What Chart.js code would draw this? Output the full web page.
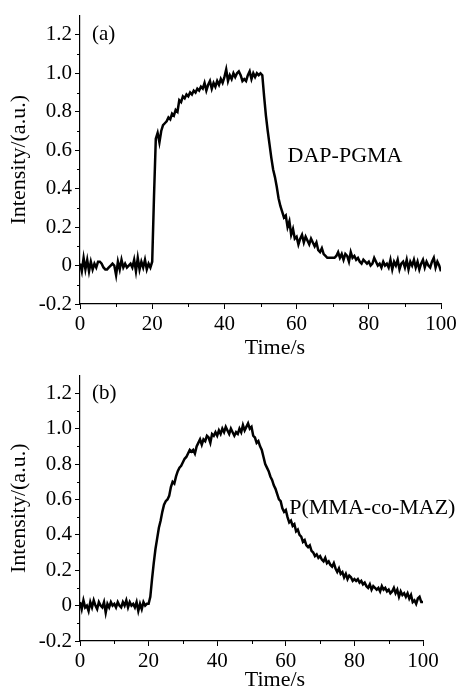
<!DOCTYPE html>
<html>
<head>
<meta charset="utf-8">
<script src="https://cdn.jsdelivr.net/npm/chart.js@4.4.1/dist/chart.umd.min.js"></script>
<style>
  html, body { margin: 0; padding: 0; background: #fff; }
  body { width: 462px; height: 690px; position: relative; overflow: hidden; }
  .panel { position: absolute; left: 0; width: 462px; }
  #panelA { top: 0; height: 360px; }
  #panelB { top: 360px; height: 330px; }
</style>
</head>
<body>
<div class="panel" id="panelA"><canvas id="chartA"></canvas></div>
<div class="panel" id="panelB"><canvas id="chartB"></canvas></div>
<script>
  // ---- data (time in s, intensity in a.u.) ----
  const sampleTimes = [
    0, 0.5, 1, 1.5, 2, 2.5, 3, 3.5, 4, 4.5, 5, 5.5, 6, 6.5, 7, 7.5, 8, 8.5, 9, 9.5,
    10, 10.5, 11, 11.5, 12, 12.5, 13, 13.5, 14, 14.5, 15, 15.5, 16, 16.5, 17, 17.5, 18, 18.5, 19, 19.5,
    20, 20.5, 21, 21.5, 22, 22.5, 23, 23.5, 24, 24.5, 25, 25.5, 26, 26.5, 27, 27.5, 28, 28.5, 29, 29.5,
    30, 30.5, 31, 31.5, 32, 32.5, 33, 33.5, 34, 34.5, 35, 35.5, 36, 36.5, 37, 37.5, 38, 38.5, 39, 39.5,
    40, 40.5, 41, 41.5, 42, 42.5, 43, 43.5, 44, 44.5, 45, 45.5, 46, 46.5, 47, 47.5, 48, 48.5, 49, 49.5,
    50, 50.5, 51, 51.5, 52, 52.5, 53, 53.5, 54, 54.5, 55, 55.5, 56, 56.5, 57, 57.5, 58, 58.5, 59, 59.5,
    60, 60.5, 61, 61.5, 62, 62.5, 63, 63.5, 64, 64.5, 65, 65.5, 66, 66.5, 67, 67.5, 68, 68.5, 69, 69.5,
    70, 70.5, 71, 71.5, 72, 72.5, 73, 73.5, 74, 74.5, 75, 75.5, 76, 76.5, 77, 77.5, 78, 78.5, 79, 79.5,
    80, 80.5, 81, 81.5, 82, 82.5, 83, 83.5, 84, 84.5, 85, 85.5, 86, 86.5, 87, 87.5, 88, 88.5, 89, 89.5,
    90, 90.5, 91, 91.5, 92, 92.5, 93, 93.5, 94, 94.5, 95, 95.5, 96, 96.5, 97, 97.5, 98, 98.5, 99, 99.5,
    100
  ];

  // (a) DAP-PGMA
  const intensityA = [
    0.01, -0.03, 0.04, -0.02, 0.03, -0.03, 0.02, -0.02, 0.01, -0.01,
    0.02, 0.02, 0.01, -0.01, -0.02, -0.02, -0.01, 0.00, 0.01, 0.00,
    -0.05, 0.02, -0.02, 0.03, -0.01, 0.01, -0.01, 0.00, 0.01, -0.01,
    0.03, -0.03, 0.04, -0.02, 0.02, -0.01, 0.03, -0.02, 0.01, -0.01,
    0.02, 0.36, 0.66, 0.69, 0.64, 0.70, 0.73, 0.74, 0.75, 0.77,
    0.76, 0.79, 0.78, 0.81, 0.80, 0.86, 0.85, 0.88, 0.87, 0.89,
    0.88, 0.90, 0.89, 0.91, 0.90, 0.92, 0.91, 0.93, 0.92, 0.95,
    0.91, 0.94, 0.96, 0.92, 0.95, 0.93, 0.96, 0.94, 0.97, 0.95,
    0.98, 1.02, 0.96, 0.99, 0.97, 1.00, 0.98, 1.00, 1.01, 0.99,
    0.96, 0.97, 0.96, 0.99, 1.01, 0.97, 1.00, 0.98, 1.00, 0.99,
    1.00, 0.99, 0.88, 0.78, 0.70, 0.63, 0.56, 0.50, 0.46, 0.41,
    0.35, 0.31, 0.28, 0.25, 0.26, 0.20, 0.23, 0.16, 0.19, 0.14,
    0.15, 0.11, 0.14, 0.16, 0.12, 0.15, 0.13, 0.11, 0.14, 0.12,
    0.10, 0.12, 0.08, 0.07, 0.09, 0.06, 0.05, 0.04, 0.04, 0.04,
    0.04, 0.04, 0.05, 0.07, 0.04, 0.06, 0.03, 0.06, 0.05, 0.02,
    0.07, 0.04, 0.05, 0.03, 0.04, 0.02, 0.01, 0.03, 0.02, 0.01,
    0.02, 0.00, 0.01, 0.04, 0.02, 0.00, 0.01, -0.01, 0.02, 0.00,
    0.01, -0.01, 0.03, -0.02, 0.02, 0.00, 0.03, -0.02, 0.01, 0.02,
    -0.01, 0.03, -0.02, 0.02, 0.00, 0.03, -0.01, 0.02, -0.02, 0.01,
    0.03, -0.01, 0.02, 0.00, -0.01, 0.02, 0.04, -0.01, 0.02, 0.00,
    -0.03
  ];

  // (b) P(MMA-co-MAZ)
  const intensityB = [
    0.02, -0.02, 0.03, -0.01, 0.00, -0.03, 0.02, -0.01, 0.03, 0.00,
    -0.02, 0.02, 0.00, -0.01, 0.02, -0.04, 0.01, -0.01, 0.02, 0.00,
    0.01, -0.01, 0.02, 0.00, -0.01, 0.02, 0.00, 0.03, -0.01, 0.02,
    0.00, 0.01, -0.01, 0.02, -0.03, 0.01, -0.02, 0.02, 0.00, 0.01,
    0.01, 0.05, 0.15, 0.24, 0.32, 0.38, 0.44, 0.48, 0.53, 0.57,
    0.59, 0.60, 0.62, 0.67, 0.70, 0.69, 0.73, 0.76, 0.78, 0.79,
    0.81, 0.83, 0.84, 0.86, 0.88, 0.87, 0.88, 0.86, 0.90, 0.92,
    0.94, 0.91, 0.94, 0.93, 0.96, 0.95, 0.92, 0.97, 0.96, 0.98,
    0.96, 0.99, 0.97, 1.00, 0.98, 1.01, 0.99, 0.97, 1.00, 0.98,
    0.96, 0.98, 0.97, 1.00, 0.98, 1.02, 0.99, 1.01, 1.03, 1.00,
    1.01, 0.96, 0.95, 0.92, 0.93, 0.90, 0.88, 0.84, 0.80, 0.78,
    0.76, 0.73, 0.71, 0.68, 0.66, 0.63, 0.60, 0.59, 0.55, 0.53,
    0.54, 0.50, 0.47, 0.48, 0.45, 0.46, 0.42, 0.43, 0.40, 0.39,
    0.36, 0.37, 0.34, 0.33, 0.34, 0.31, 0.30, 0.28, 0.29, 0.27,
    0.28, 0.26, 0.25, 0.27, 0.24, 0.25, 0.23, 0.22, 0.24, 0.21,
    0.19, 0.21, 0.18, 0.19, 0.16, 0.18, 0.15, 0.17, 0.16, 0.14,
    0.15, 0.14, 0.15, 0.13, 0.14, 0.12, 0.13, 0.11, 0.10, 0.12,
    0.09, 0.11, 0.10, 0.09, 0.10, 0.08, 0.11, 0.09, 0.10, 0.08,
    0.09, 0.07, 0.08, 0.10, 0.07, 0.09, 0.05, 0.08, 0.06, 0.07,
    0.05, 0.07, 0.04, 0.06, 0.02, 0.03, 0.01, 0.04, 0.05, 0.02,
    0.02
  ];

  const xTickValues = [0, 20, 40, 60, 80, 100];
  const xMinorValues = [10, 30, 50, 70, 90];
  const yTickValues = [-0.2, 0, 0.2, 0.4, 0.6, 0.8, 1.0, 1.2];
  const yMinorValues = [-0.1, 0.1, 0.3, 0.5, 0.7, 0.9, 1.1];

  const FONT = "'Liberation Serif', 'DejaVu Serif', serif";

  // minor ticks + text labels inside the plot
  const decoPlugin = {
    id: "deco",
    afterDraw(chart, args, opts) {
      const { ctx, chartArea } = chart;
      const xs = chart.scales.x, ys = chart.scales.y;
      ctx.save();
      ctx.strokeStyle = "#000";
      ctx.lineWidth = 1;
      ctx.beginPath();
      yMinorValues.forEach((v) => {
        const py = Math.round(ys.getPixelForValue(v)) + 0.5;
        ctx.moveTo(chartArea.left - 3, py);
        ctx.lineTo(chartArea.left, py);
      });
      xMinorValues.forEach((v) => {
        const px = Math.round(xs.getPixelForValue(v)) + 0.5;
        ctx.moveTo(px, chartArea.bottom);
        ctx.lineTo(px, chartArea.bottom + 3);
      });
      ctx.stroke();

      ctx.fillStyle = "#000";
      ctx.textBaseline = "middle";
      ctx.textAlign = "left";
      ctx.font = `21px ${FONT}`;
      ctx.fillText(opts.tag, chartArea.left + 12, ys.getPixelForValue(opts.tagY));
      ctx.font = `22px ${FONT}`;
      ctx.fillText(opts.name, xs.getPixelForValue(opts.nameX), ys.getPixelForValue(opts.nameY));
      ctx.textAlign = "center";
      ctx.fillText("Time/s", chartArea.left + 195, chartArea.bottom + opts.titleDy);
      ctx.restore();
    }
  };

  function makeChart(canvas, values, cfg) {
    return new Chart(canvas, {
      type: "line",
      data: {
        datasets: [{
          data: sampleTimes.map((t, i) => ({ x: t, y: values[i] })),
          borderColor: "#000",
          borderWidth: 2.5,
          pointRadius: 0,
          tension: 0,
          fill: false
        }]
      },
      options: {
        responsive: true,
        maintainAspectRatio: false,
        animation: false,
        events: [],
        layout: { padding: { top: cfg.top, right: cfg.right, left: 0, bottom: 0 } },
        plugins: {
          legend: { display: false },
          tooltip: { enabled: false },
          deco: cfg.deco
        },
        scales: {
          x: {
            type: "linear",
            min: 0,
            max: 100,
            afterBuildTicks: (s) => { s.ticks = xTickValues.map((v) => ({ value: v })); },
            afterFit: (s) => { s.height = cfg.xHeight; },
            grid: { drawOnChartArea: false, drawTicks: true, tickLength: 5, color: "#000", lineWidth: 1 },
            border: { display: true, color: "#000", width: 1.2 },
            ticks: {
              color: "#000",
              padding: 3,
              maxRotation: 0,
              font: { family: FONT, size: 21 },
              callback: (v) => String(v)
            }
          },
          y: {
            type: "linear",
            min: -0.2,
            max: 1.3,
            afterBuildTicks: (s) => { s.ticks = yTickValues.map((v) => ({ value: v })); },
            afterFit: (s) => { s.width = 80; },
            grid: { drawOnChartArea: false, drawTicks: true, tickLength: 5, color: "#000", lineWidth: 1 },
            border: { display: true, color: "#000", width: 1.2 },
            title: {
              display: true,
              text: "Intensity/(a.u.)",
              color: "#000",
              padding: { top: 6, bottom: 0 },
              font: { family: FONT, size: 22 }
            },
            ticks: {
              color: "#000",
              padding: 3,
              font: { family: FONT, size: 21 },
              callback: (v) => (Math.abs(v) < 1e-9 ? "0" : Number(v).toFixed(1))
            }
          }
        }
      },
      plugins: [decoPlugin]
    });
  }

  document.addEventListener("DOMContentLoaded", () => {
    makeChart(document.getElementById("chartA"), intensityA, {
      top: 15, right: 21, xHeight: 56,
      deco: { tag: "(a)", tagY: 1.2, name: "DAP-PGMA", nameX: 57.5, nameY: 0.57, titleDy: 44 }
    });
    makeChart(document.getElementById("chartB"), intensityB, {
      top: 6, right: 39, xHeight: 49,
      deco: { tag: "(b)", tagY: 1.2, name: "P(MMA-co-MAZ)", nameX: 61, nameY: 0.55, titleDy: 39 }
    });
  });
</script>
</body>
</html>
